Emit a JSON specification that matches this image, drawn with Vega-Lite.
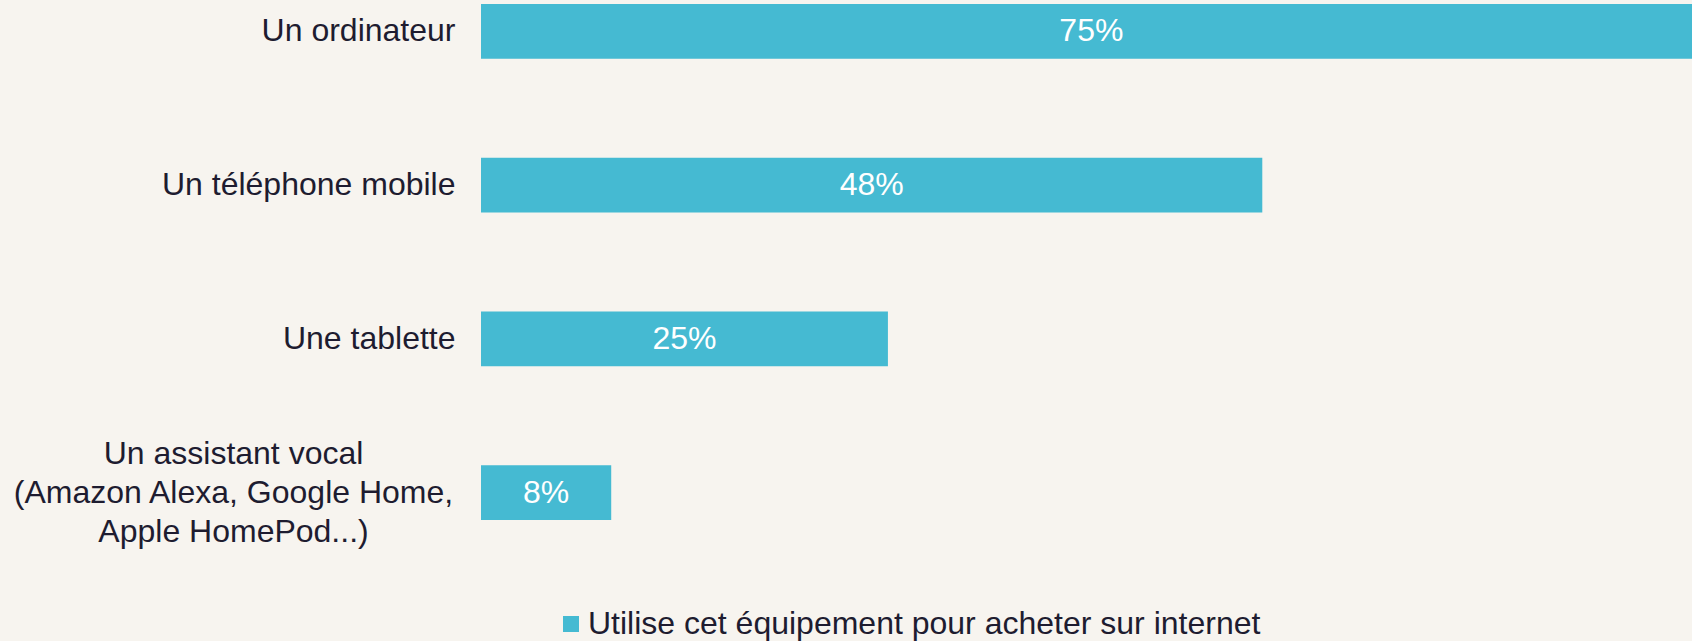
{
  "$schema": "https://vega.github.io/schema/vega-lite/v6.json",
  "autosize": "none",
  "width": 1211,
  "height": 524,
  "padding": {"left": 481, "top": 0, "right": 0, "bottom": 117},
  "background": "#f7f4ef",
  "config": {"view": {"stroke": null}, "font": "Liberation Sans"},
  "data": {
    "values": [
      {"equipement": "Un ordinateur", "valeur": 0.75, "serie": "Utilise cet équipement pour acheter sur internet"},
      {"equipement": "Un téléphone mobile", "valeur": 0.48, "serie": "Utilise cet équipement pour acheter sur internet"},
      {"equipement": "Une tablette", "valeur": 0.25, "serie": "Utilise cet équipement pour acheter sur internet"},
      {"equipement": "Un assistant vocal\n(Amazon Alexa, Google Home,\nApple HomePod...)", "valeur": 0.08, "serie": "Utilise cet équipement pour acheter sur internet"}
    ]
  },
  "encoding": {
    "y": {
      "field": "equipement",
      "type": "nominal",
      "sort": null,
      "scale": {"paddingInner": 0.644, "paddingOuter": 0.026},
      "axis": {
        "title": null,
        "domain": false,
        "ticks": false,
        "labelFont": "Liberation Sans",
        "labelFontSize": 32,
        "labelColor": "#1e1c30",
        "labelLimit": 600,
        "labelLineHeight": 39,
        "labelExpr": "split(datum.value, '\\n')",
        "labelAlign": {"condition": {"test": "indexof(datum.value, '(') >= 0", "value": "center"}, "value": "right"},
        "labelPadding": {"condition": {"test": "indexof(datum.value, '(') >= 0", "value": 248}, "value": 26},
        "labelOffset": {"condition": {"test": "indexof(datum.value, '(') >= 0", "value": -39}, "value": 0}
      }
    }
  },
  "layer": [
    {
      "mark": {"type": "bar", "clip": true},
      "encoding": {
        "x": {"field": "valeur", "type": "quantitative", "scale": {"domain": [0, 0.744], "nice": false, "zero": true}, "axis": null},
        "color": {
          "field": "serie",
          "type": "nominal",
          "scale": {"range": ["#45bad2"]},
          "legend": {
            "title": null,
            "orient": "none",
            "legendX": 74,
            "legendY": 608,
            "symbolType": "square",
            "symbolSize": 256,
            "symbolStrokeWidth": 0,
            "labelFontSize": 32,
            "labelFont": "Liberation Sans",
            "labelColor": "#1e1c30",
            "labelLimit": 1000,
            "labelOffset": 1
          }
        }
      }
    },
    {
      "mark": {"type": "text", "color": "#ffffff", "fontSize": 32, "font": "Liberation Sans", "align": "center", "baseline": "middle"},
      "encoding": {
        "x": {"field": "valeur", "type": "quantitative", "scale": {"domain": [0, 1.488], "nice": false, "zero": true}, "axis": null},
        "text": {"field": "valeur", "type": "quantitative", "format": ".0%"}
      }
    }
  ],
  "resolve": {"scale": {"x": "independent"}}
}
